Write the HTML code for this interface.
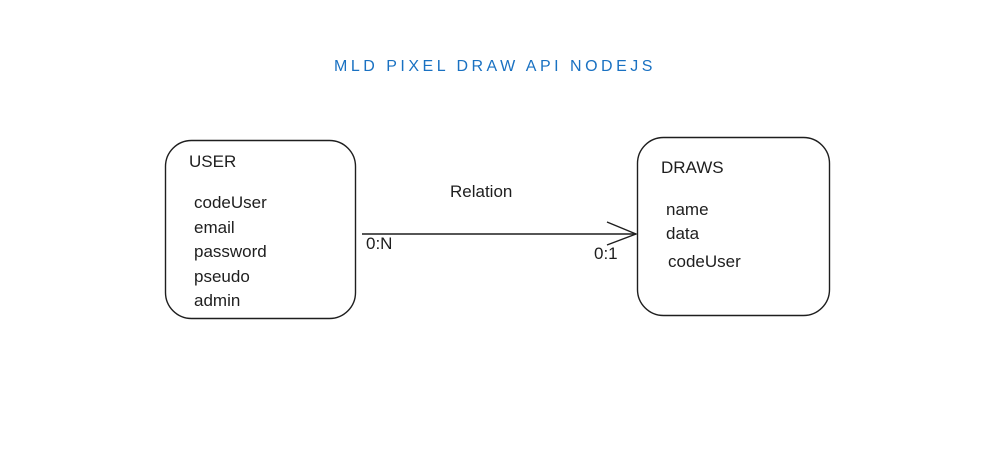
<!DOCTYPE html>
<html><head><meta charset="utf-8"><style>
html,body{margin:0;padding:0;background:#fff;}
body{width:1002px;height:465px;position:relative;overflow:hidden;font-family:"Liberation Sans",sans-serif;color:#1e1e1e;}
.t{position:absolute;white-space:nowrap;font-size:17px;line-height:20px;}
</style></head><body>
<svg width="1002" height="465" style="position:absolute;left:0;top:0">
<rect x="165.5" y="140.5" width="190" height="178" rx="26" fill="none" stroke="#1e1e1e" stroke-width="1.4"/>
<rect x="637.5" y="137.5" width="192" height="178" rx="26" fill="none" stroke="#1e1e1e" stroke-width="1.4"/>
<path d="M362 234 L636 234" stroke="#1e1e1e" stroke-width="1.4" fill="none"/>
<path d="M607 222 L636 234 L607 245" stroke="#1e1e1e" stroke-width="1.4" fill="none"/>
</svg>
<div class="t" style="left:334px;top:57px;color:#1971c2;font-size:16px;letter-spacing:3.5px">MLD PIXEL DRAW API NODEJS</div>
<div class="t" style="left:189px;top:152px">USER</div>
<div class="t" style="left:194px;top:191px;line-height:24.5px">codeUser<br>email<br>password<br>pseudo<br>admin</div>
<div class="t" style="left:661px;top:158px">DRAWS</div>
<div class="t" style="left:666px;top:198px;line-height:24px">name<br>data</div>
<div class="t" style="left:668px;top:252px">codeUser</div>
<div class="t" style="left:450px;top:182px">Relation</div>
<div class="t" style="left:366px;top:234px">0:N</div>
<div class="t" style="left:594px;top:244px">0:1</div>
</body></html>
